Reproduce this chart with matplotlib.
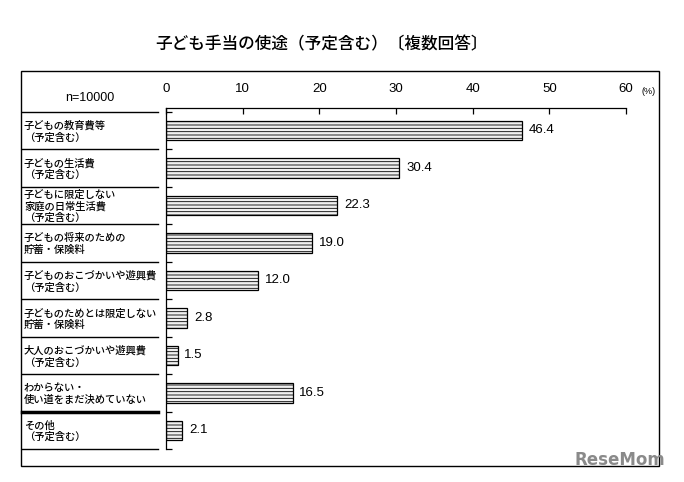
import matplotlib.pyplot as plt
from matplotlib.patches import Rectangle

plt.rcParams['font.family'] = ['Noto Sans CJK JP', 'DejaVu Sans']
plt.rcParams['hatch.color'] = '#c2c2c2'
plt.rcParams['hatch.linewidth'] = 0.6

# data (top to bottom)
categories = ['子どもの教育費等\n（予定含む）',
              '子どもの生活費\n（予定含む）',
              '子どもに限定しない\n家庭の日常生活費\n（予定含む）',
              '子どもの将来のための\n貯蓄・保険料',
              '子どものおこづかいや遊興費\n（予定含む）',
              '子どものためとは限定しない\n貯蓄・保険料',
              '大人のおこづかいや遊興費\n（予定含む）',
              'わからない・\n使い道をまだ決めていない',
              'その他\n（予定含む）']
values = [46.4, 30.4, 22.3, 19.0, 12.0, 2.8, 1.5, 16.5, 2.1]
x_ticks = [0, 10, 20, 30, 40, 50, 60]

W, H = 684, 482
fig = plt.figure(figsize=(W / 100, H / 100), dpi=100)
# axes placed by pixel box: x 166..626, y 108..449
ax = fig.add_axes([166 / W, 1 - 449 / H, 460 / W, 341 / H])

n = len(categories)
ypos = list(range(n - 1, -1, -1))
ax.barh(ypos, values, height=0.52, color='#f0f0f0', edgecolor='black',
        linewidth=0.9, hatch='-----')
for y, v in zip(ypos, values):
    ax.text(v + 0.9, y, f'{v:.1f}', va='center', ha='left', fontsize=9.5,
            family=['Liberation Sans', 'DejaVu Sans'])

ax.set_xlim(0, 60)
ax.set_ylim(-0.5, n - 0.5 + 0.1)
ax.xaxis.tick_top()
ax.set_xticks(x_ticks)
ax.set_xticklabels([str(t) for t in x_ticks], family=['Liberation Sans', 'DejaVu Sans'], fontsize=9.5)
ax.tick_params(axis='x', direction='in', length=4, width=0.9, pad=9)
ax.set_yticks([i - 0.5 for i in range(n + 1)])
ax.set_yticklabels([])
ax.tick_params(axis='y', direction='in', length=4, width=0.9)
for s in ['right', 'bottom']:
    ax.spines[s].set_visible(False)
for s in ['top', 'left']:
    ax.spines[s].set_linewidth(0.9)

# left label column with separators
tr = ax.get_yaxis_transform()
xl0, xl1 = (22 - 166) / 460, (158 - 166) / 460
for i in range(n + 1):
    b = i - 0.5
    lw = 2.5 if i == 1 else 1.0
    ax.plot([xl0, xl1], [b, b], color='black', lw=lw, transform=tr, clip_on=False)
for y, lab in zip(ypos, categories):
    ax.text((24 - 166) / 460, y - 0.03, lab, transform=tr, va='center', ha='left',
            fontsize=7.4, linespacing=1.15, weight='medium', clip_on=False)

fig.text(90 / W, 1 - 98 / H, 'n=10000', ha='center', va='center', fontsize=9,
         family=['Liberation Sans', 'DejaVu Sans'])
fig.text(641 / W, 1 - 91 / H, '(%)', ha='left', va='center', fontsize=6.5,
         family=['Liberation Sans', 'DejaVu Sans'])

# outer frame
fig.add_artist(Rectangle((21 / W, 1 - 466 / H), (659 - 21) / W, (466 - 71) / H,
                         transform=fig.transFigure, fill=False, lw=1.0, ec='black'))

fig.text(322 / W, 1 - 44 / H, '子ども手当の使途（予定含む）〔複数回答〕', ha='center',
         va='center', fontsize=12, weight='medium')

fig.text(574 / W, 1 - 460 / H, 'ReseMom', ha='left', va='center', fontsize=12,
         weight='bold', color='#8a8a8a', family=['DejaVu Sans'])

fig.savefig('out.png', dpi=100)
